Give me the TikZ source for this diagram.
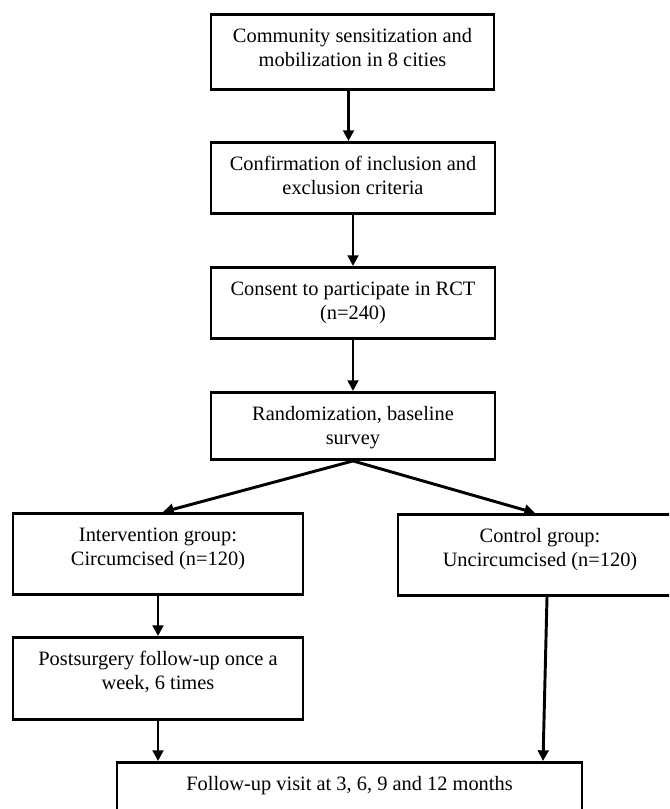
\documentclass[tikz,border=0pt]{standalone}
\usepackage{fontspec}
\setmainfont{Liberation Serif}
\usetikzlibrary{arrows.meta,positioning}
\tikzset{
  box/.style={draw, line width=2.2pt, align=center, fill=white, anchor=north,
    font=\fontsize{15.3}{18}\selectfont, inner ysep=0pt, inner xsep=3pt,
    text height=39pt, text depth=#1},
  box/.default=14.25pt,
  arr/.style={-{Triangle[length=8pt, width=8pt]}, line width=2.2pt}}
\begin{document}
\begin{tikzpicture}[x=0.75pt, y=-0.75pt]
  \useasboundingbox (0,0) rectangle (669,809);
  \clip (0,0) rectangle (669,809);
  % main column
  \node[box=17.25pt, minimum width=212.25pt] (comm) at (352.5,13) {Community sensitization and\\mobilization in 8 cities};
  \node[box, minimum width=213pt] (crit) at (353,141) {Confirmation of inclusion and\\exclusion criteria};
  \node[box, minimum width=213pt] (cons) at (353,266) {Consent to participate in RCT\\(n=240)};
  \node[box=11.25pt, minimum width=213pt] (rand) at (353,391) {Randomization, baseline\\survey};
  % the two arms
  \node[box=21.75pt, minimum width=217.5pt] (intv) at (158,512) {Intervention group:\\Circumcised (n=120)};
  \node[box=21.75pt, minimum width=213pt] (ctrl) at (540,513) {Control group:\\Uncircumcised (n=120)};
  \node[box=22.5pt, minimum width=217.5pt] (post) at (158,636) {Postsurgery follow-up once a\\week, 6 times};
  \node[box=30pt, text height=21pt, minimum width=348.75pt] (fu) at (349.5,761) {Follow-up visit at 3, 6, 9 and 12 months};
  % connectors
  \draw[arr] ([xshift=-3pt]comm.south) -- ([xshift=-3pt]comm.south |- crit.north);
  \draw[arr] (crit.south) -- (cons.north);
  \draw[arr] (cons.south) -- (rand.north);
  \draw[arr] (rand.south) -- ([xshift=3.75pt]intv.north);
  \draw[arr] (rand.south) -- ([xshift=-3.75pt]ctrl.north);
  \draw[arr] (intv.south) -- (post.north);
  \draw[arr] (post.south) -- (post.south |- fu.north);
  \draw[arr] ([xshift=5.25pt]ctrl.south) -- ([xshift=2.25pt]ctrl.south |- fu.north);
\end{tikzpicture}
\end{document}
